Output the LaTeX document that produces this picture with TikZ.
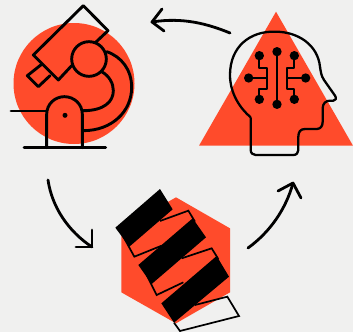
\documentclass[tikz,border=0pt]{standalone}
\definecolor{BgClr}{HTML}{F0F0EF}
\definecolor{ShapeClr}{HTML}{FF4B2B}
\tikzset{
  inkline/.style={line width=2.9pt,color=black,line join=round,line cap=round},
  headline/.style={line width=2.3pt,color=black,line join=round},
  thinline/.style={line width=1.7pt,color=black,line join=miter},
  cyclearrow/.style={line width=2.8pt,color=black,line cap=round,line join=round},
  bar/.style={fill=black,draw=none}
}
\begin{document}
\begin{tikzpicture}[x=1pt,y=-1pt]
\useasboundingbox[fill=BgClr] (0,0) rectangle (353,332);

% microscope
\fill[ShapeClr] (74,83.5) circle (60.5pt);
\begin{scope}[scale=1/3]
\draw[inkline] (287,127) -- (324,92) -- (250,17) -- (100,165) -- (175,240) -- (215,197);
\draw[inkline] (125,193) -- (82,227) -- (115,260) -- (150,227);
\draw[inkline] (267,177) circle (52pt);
\draw[inkline] (305,215) .. controls (328,228) and (340,250) .. (340,272) .. controls (340,305) and (312,332) .. (250,332);
\draw[inkline] (320,155) .. controls (365,170) and (395,210) .. (395,262) .. controls (395,335) and (335,392) .. (250,392);
\draw[inkline] (33,333) -- (140,333);
\draw[inkline] (140,443) -- (140,343) .. controls (140,312) and (165,290) .. (193,290) .. controls (222,290) and (247,312) .. (247,343) -- (247,443);
\draw[inkline] (72,443) -- (317,443);
\fill[black] (195,346) circle (7.5pt);
\end{scope}

% head
\fill[ShapeClr] (276,11.7) -- (353,145.7) -- (199,145.7) -- cycle;
\begin{scope}[shift={(190,0)},scale=1/3]
\draw[headline] (182,352) -- (182,450) .. controls (182,460) and (190,465) .. (197,465) -- (310,465) .. controls (320,465) and (325,458) .. (325,450) -- (325,410) .. controls (325,395) and (332,387) .. (345,387) -- (380,387) .. controls (392,387) and (398,378) .. (398,365) -- (398,325) .. controls (398,310) and (408,302) .. (420,302) -- (430,302) .. controls (438,302) and (440,295) .. (435,287) -- (402,240) .. controls (394,228) and (392,215) .. (390,200) .. controls (383,135) and (325,95) .. (255,95) .. controls (180,93) and (120,140) .. (120,225) .. controls (120,280) and (150,325) .. (182,352);
\draw[headline] (261,155) -- (261,313);
\draw[headline] (208,167) -- (208,203) -- (232,203) -- (232,267) -- (208,267) -- (208,298);
\draw[headline] (313,167) -- (313,203) -- (290,203) -- (290,267) -- (313,267) -- (313,298);
\draw[headline] (176,234) -- (232,234);
\draw[headline] (347,234) -- (290,234);
\foreach \x/\y in {261/155,261/313,208/167,313/167,208/298,313/298,176/234,347/234}
  \fill[black] (\x,\y) circle (14pt);
\end{scope}

% spring
\begin{scope}[shift={(100,175)},scale=1/3]
\fill[ShapeClr] (228,67) -- (390,160) -- (390,352) -- (228,445) -- (64,352) -- (64,160) -- cycle;
\draw[thinline] (70,185) -- (103,245) -- (185,212);
\draw[thinline] (180,138) -- (265,107) -- (285,140);
\draw[thinline] (140,300) -- (170,360) -- (250,322);
\draw[thinline] (245,250) -- (335,220) -- (355,252);
\draw[thinline] (222,443) -- (240,468) -- (417,423) -- (382,365) -- (285,390);
\fill[bar] (46,158) -- (180,42) -- (218,103) -- (88,215) -- cycle;
\fill[bar] (115,270) -- (278,130) -- (318,187) -- (155,327) -- cycle;
\fill[bar] (184,385) -- (350,243) -- (387,305) -- (222,443) -- cycle;
\end{scope}

% cycle arrows
\coordinate (headout) at (230,33);
\coordinate (scopein) at (152,22);
\coordinate (scopeout) at (48,180);
\coordinate (springin) at (92,247);
\coordinate (springout) at (248,248);
\coordinate (headin) at (293,183);
\draw[cyclearrow] (headout) .. controls (208,24) and (183,17) .. (scopein);
\draw[cyclearrow] (162,9) -- (scopein) -- (164,31);
\draw[cyclearrow] (scopeout) .. controls (52,207) and (68,231) .. (springin);
\draw[cyclearrow] (76,247) -- (springin) -- (92,230);
\draw[cyclearrow] (springout) .. controls (270,232) and (286,209) .. (headin);
\draw[cyclearrow] (278,191) -- (headin) -- (301,198);
\end{tikzpicture}
\end{document}
